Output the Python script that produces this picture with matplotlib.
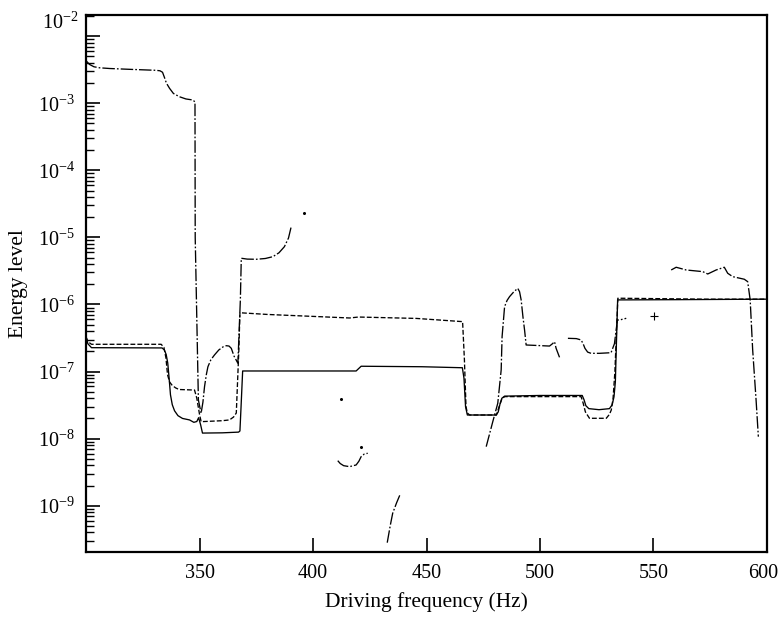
import matplotlib
matplotlib.use("Agg")
import matplotlib.pyplot as plt
import matplotlib.transforms as mtransforms
from matplotlib.ticker import LogLocator, FixedLocator, NullFormatter, FixedFormatter

plt.rcParams['font.family'] = ['Liberation Serif', 'DejaVu Serif']
plt.rcParams['mathtext.fontset'] = 'custom'
plt.rcParams['mathtext.rm'] = 'Liberation Serif'
plt.rcParams['mathtext.it'] = 'Liberation Serif:italic'
plt.rcParams['lines.scale_dashes'] = False

# ---- data (Hz, energy) ----
solid_x = [300, 300.8, 302.4, 333.5, 334.5, 335.3, 336.0, 336.6, 337.2, 338.0, 339.0, 340.5,
           342.5, 345.6, 347.5, 348.8, 349.6, 350.5, 351.3, 360, 367.2, 367.8, 368.3, 369.0,
           419.0, 421.2, 448, 465.8, 466.5, 467.2, 468.0, 480.7, 481.6, 482.4, 483.2, 484.4,
           500, 518.6, 519.4, 520.2, 521.5, 526, 530.6, 531.8, 532.6, 533.2, 534.2, 560, 600]
solid_y = [3.3e-7, 2.6e-7, 2.27e-7, 2.25e-7, 2.1e-7, 1.8e-7, 1.34e-7, 8e-8, 4.5e-8, 3.2e-8,
           2.6e-8, 2.2e-8, 2.0e-8, 1.9e-8, 1.75e-8, 1.8e-8, 2.05e-8, 1.6e-8, 1.21e-8, 1.22e-8,
           1.25e-8, 1.3e-8, 3e-8, 1.02e-7, 1.02e-7, 1.20e-7, 1.18e-7, 1.14e-7, 8e-8, 3e-8,
           2.25e-8, 2.25e-8, 2.5e-8, 3.3e-8, 4.0e-8, 4.3e-8, 4.4e-8, 4.4e-8, 3.8e-8, 3.1e-8,
           2.8e-8, 2.7e-8, 2.8e-8, 3.2e-8, 4.2e-8, 7e-8, 1.17e-6, 1.18e-6, 1.2e-6]

dashed_x = [300, 300.8, 302.4, 333.1, 334.3, 335.2, 335.9, 336.8, 338.0, 339.5, 341, 347.8,
            348.8, 350.0, 350.7, 360, 363.2, 365, 366.2, 367.3, 367.8, 380, 402.9, 416.1, 420,
            445.5, 465.9, 466.7, 467.4, 468.0, 469, 480.8, 482.0, 483.2, 484.4, 518.1, 519.0,
            520.0, 521.8, 529.2, 530.6, 531.4, 532.2, 533, 534.3, 573.2, 600]
dashed_y = [3.3e-7, 2.8e-7, 2.55e-7, 2.55e-7, 2.3e-7, 1.6e-7, 9e-8, 7e-8, 6.2e-8, 5.7e-8,
            5.4e-8, 5.3e-8, 4e-8, 2.3e-8, 1.79e-8, 1.85e-8, 1.9e-8, 2.1e-8, 2.41e-8, 2e-7,
            7.53e-7, 7.1e-7, 6.58e-7, 6.29e-7, 6.5e-7, 6.2e-7, 5.55e-7, 1.5e-7, 3e-8, 2.41e-8,
            2.25e-8, 2.25e-8, 3.0e-8, 3.9e-8, 4.23e-8, 4.23e-8, 3.4e-8, 2.5e-8, 2.01e-8,
            2.01e-8, 2.3e-8, 2.67e-8, 4e-8, 1e-7, 1.24e-6, 1.2e-6, 1.2e-6]

# dash-dot branches
dd_a_x = [300.1, 301.5, 303.5, 306, 310.4, 320, 330.9, 332.6, 333.7, 334.6, 335.4, 336.8,
          338.5, 341.2, 344, 347.0, 348.0, 348.1, 349.5, 350.7, 351.5, 352.2, 353.0, 353.7,
          355.0, 356.6, 358.5, 360.5, 361.8, 363.0, 364.0, 365.2, 366.9, 368.0, 368.4, 371,
          375.0, 379, 382.3, 385, 387.4, 389.2, 390.4]
dd_a_y = [4.28e-3, 3.8e-3, 3.5e-3, 3.38e-3, 3.3e-3, 3.2e-3, 3.1e-3, 3.05e-3, 2.9e-3, 2.4e-3,
          2.0e-3, 1.67e-3, 1.4e-3, 1.25e-3, 1.16e-3, 1.12e-3, 1.05e-3, 1e-5, 3.77e-8,
          2.39e-8, 3.5e-8, 5.94e-8, 9e-8, 1.18e-7, 1.5e-7, 1.77e-7, 2.1e-7, 2.35e-7, 2.43e-7,
          2.4e-7, 2.22e-7, 1.7e-7, 1.33e-7, 1.2e-6, 4.89e-6, 4.75e-6, 4.72e-6, 4.85e-6,
          5.16e-6, 5.9e-6, 7.28e-6, 9.8e-6, 1.45e-5]
dd_b_x = [410.9, 412.0, 413.5, 416.1, 419.0, 420.2, 421.2, 422.6, 424.1]
dd_b_y = [4.69e-9, 4.25e-9, 3.95e-9, 3.82e-9, 4.05e-9, 4.6e-9, 5.38e-9, 5.9e-9, 6.05e-9]
dd_c_x = [432.7, 434.0, 435.1, 436.8, 438.4]
dd_c_y = [2.81e-10, 5.0e-10, 7.71e-10, 1.1e-9, 1.48e-9]
dd_d_x = [476.3, 479.2, 481.4, 482.9, 483.3, 484.4, 485.5, 486.6, 488.5, 490.2, 491.0, 491.7,
          492.5, 493.2, 493.9, 504.2, 505.5, 506.4, 507.1, 508.6]
dd_d_y = [7.59e-9, 1.79e-8, 3.37e-8, 1.06e-7, 3.31e-7, 9.28e-7, 1.15e-6, 1.31e-6, 1.55e-6,
          1.74e-6, 1.55e-6, 1.17e-6, 6.5e-7, 4.17e-7, 2.49e-7, 2.40e-7, 2.6e-7, 2.79e-7,
          2.22e-7, 1.63e-7]
dd_e_x = [512.3, 516, 518.1, 519.0, 519.8, 521.0, 522.5, 526.2, 531.3, 532.8, 534.1, 535.0,
          538.0]
dd_e_y = [3.13e-7, 3.1e-7, 2.96e-7, 2.6e-7, 2.22e-7, 1.95e-7, 1.87e-7, 1.87e-7, 1.91e-7,
          2.6e-7, 5.87e-7, 5.87e-7, 6.22e-7]
dd_f_x = [557.8, 560.0, 564.4, 571.7, 573.9, 577.6, 581.2, 582.7, 584.9, 590.0, 591.5,
          592.6, 593.7, 595.2, 596.2]
dd_f_y = [3.27e-6, 3.59e-6, 3.27e-6, 3.09e-6, 2.85e-6, 3.27e-6, 3.59e-6, 2.92e-6, 2.60e-6,
          2.38e-6, 2.19e-6, 1.17e-6, 2.10e-7, 3.77e-8, 1.07e-8]
dots_x = [396.2, 412.4, 421.2]
dots_y = [2.34e-5, 3.86e-8, 7.59e-9]
plus_x = [550.1]
plus_y = [6.81e-7]

x_ticks = [350, 400, 450, 500, 550, 600]
y_major = [1e-9, 1e-8, 1e-7, 1e-6, 1e-5, 1e-4, 1e-3, 1e-2]
y_labels = [r'$10^{-9}$', r'$10^{-8}$', r'$10^{-7}$', r'$10^{-6}$', r'$10^{-5}$',
            r'$10^{-4}$', r'$10^{-3}$', '']
top_label = r'$10^{-2}$'

fig = plt.figure(figsize=(7.8, 6.18), dpi=100)
ax = fig.add_axes([0.1103, 0.1068, 0.8730, 0.8689])

lw = 0.95
ax.plot(solid_x, solid_y, color='black', lw=lw, ls='-')
ax.plot(dashed_x, dashed_y, color='black', lw=lw, ls=(0, (3.5, 1.5)))
dd_style = dict(color='black', lw=lw, ls=(0, (9, 1.5, 1.2, 1.5)))
for xs, ys in [(dd_a_x, dd_a_y), (dd_b_x, dd_b_y), (dd_c_x, dd_c_y),
               (dd_d_x, dd_d_y), (dd_e_x, dd_e_y), (dd_f_x, dd_f_y)]:
    ax.plot(xs, ys, **dd_style)
ax.plot(dots_x, dots_y, ls='none', marker='o', ms=1.2, color='black')
ax.plot(plus_x, plus_y, ls='none', marker='+', ms=6, mew=0.8, color='black')

ax.set_yscale('log')
ax.set_xlim(300, 600)
ax.set_ylim(2.04e-10, 2.07e-2)

ax.xaxis.set_major_locator(FixedLocator(x_ticks))
ax.set_xticklabels([str(v) for v in x_ticks])
ax.yaxis.set_major_locator(FixedLocator(y_major))
ax.yaxis.set_major_formatter(FixedFormatter(y_labels))
ax.yaxis.set_minor_locator(LogLocator(base=10, subs=range(2, 10), numticks=50))
ax.yaxis.set_minor_formatter(NullFormatter())

ax.tick_params(axis='both', which='major', direction='in', length=10, width=1.2,
               labelsize=14.5, top=False, right=False, pad=8)
ax.tick_params(axis='y', which='minor', direction='in', length=6, width=1.0, right=False)
ax.tick_params(axis='x', which='minor', bottom=False)
ax.tick_params(axis='x', which='major', pad=9)

# nudge the last x tick label so it stays inside the canvas
last_lbl = ax.get_xticklabels()[-1]
last_lbl.set_transform(last_lbl.get_transform() +
                       mtransforms.ScaledTranslation(-3 / 72, 0, fig.dpi_scale_trans))

ax.text(-8 / 681, 1.69e-2, top_label, transform=ax.get_yaxis_transform(),
        ha='right', va='center_baseline', fontsize=14.5)

for s in ax.spines.values():
    s.set_linewidth(1.6)

ax.set_xlabel('Driving frequency (Hz)', fontsize=15.5, labelpad=6)
ax.set_ylabel('Energy level', fontsize=15.5, labelpad=7)

fig.savefig('out.png', dpi=100)
